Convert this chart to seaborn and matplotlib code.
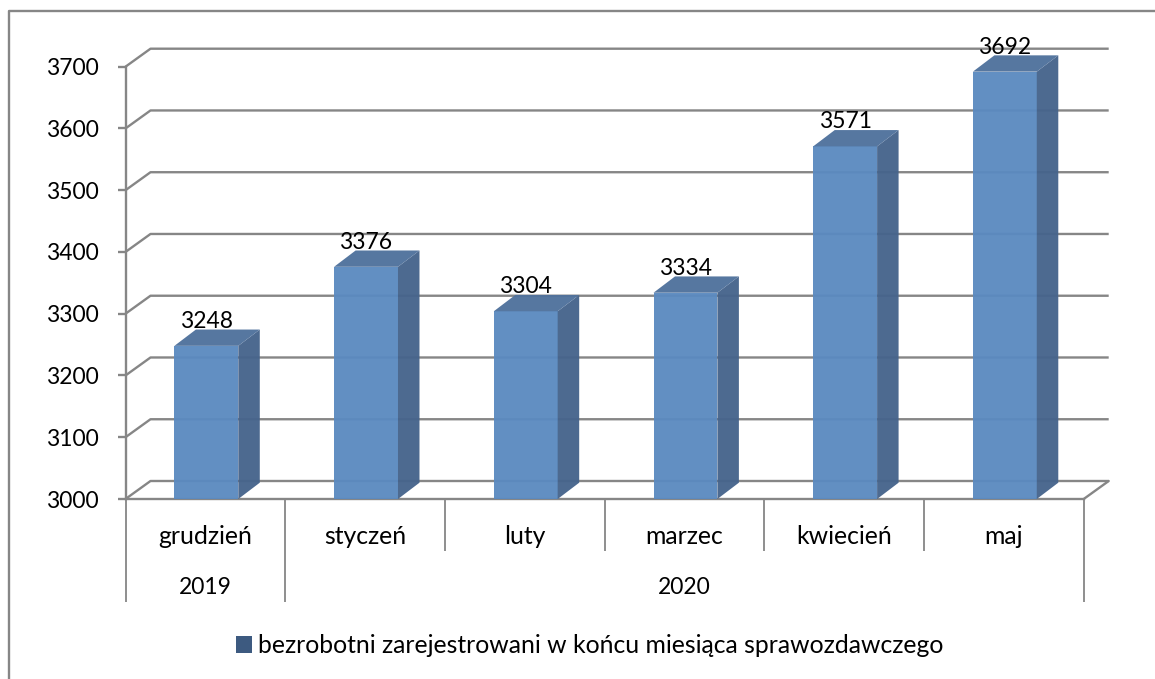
import matplotlib
matplotlib.use("Agg")
import matplotlib.pyplot as plt
import pandas as pd
import seaborn as sns
from matplotlib.lines import Line2D
from matplotlib.patches import Patch

months = ["grudzień", "styczeń", "luty", "marzec", "kwiecień", "maj"]
values = [3248, 3376, 3304, 3334, 3571, 3692]
years = ["2019", "2020"]
year_spans = [(0, 1), (1, 6)]
y_ticks = [3000, 3100, 3200, 3300, 3400, 3500, 3600, 3700]
series_name = "bezrobotni zarejestrowani w końcu miesiąca sprawozdawczego"

W, H = 1155, 679
FRONT, SIDE, TOP = "#5b8ac0", "#46648c", "#4f719c"
GRID = "#868686"
TXT = "#000000"
FS = 16.5      # digits
FS_TXT = 17.8  # words
LW = 1.7

sns.set_theme(style="white")
plt.rcParams["font.family"] = ["Lato", "DejaVu Sans"]

fig = plt.figure(figsize=(W / 100, H / 100), dpi=100, facecolor="white")
L, R, T, B = 125.5, 1083.7, 66.7, 499.0
ax = fig.add_axes([L / W, 1 - B / H, (R - L) / W, (B - T) / H])
ax.patch.set_alpha(0)

df = pd.DataFrame({"month": months, "value": values})
sns.barplot(data=df, x="month", y="value", order=months, width=0.4,
            color=FRONT, saturation=1, ax=ax, zorder=3, linewidth=0, edgecolor="none")
ax.set_ylim(y_ticks[0], y_ticks[-1])
ax.set_xlim(-0.5, len(months) - 0.5)
ax.set_yticks(y_ticks)
ax.set_xlabel("")
ax.set_ylabel("")

px_x = (R - L) / len(months)
px_y = (B - T) / (y_ticks[-1] - y_ticks[0])
gdx, gdy = 25 / px_x, 18 / px_y       # depth of the back wall
bdx, bdy = 21.5 / px_x, 16.3 / px_y   # depth of a bar
nudge = 1 / px_x                      # bars sit a pixel right of the slot centre

# back wall grid and floor
x0, x1 = -0.5, len(months) - 0.5
for t in y_ticks:
    ax.plot([x0, x0 + gdx, x1 + gdx], [t, t + gdy, t + gdy], color=GRID, lw=LW,
            clip_on=False, zorder=1, solid_capstyle="butt")
ax.plot([x1, x1 + gdx], [y_ticks[0], y_ticks[0] + gdy], color=GRID, lw=LW,
        clip_on=False, zorder=1)

# 3D faces of the bars
base = y_ticks[0]
for p, v, month in zip(ax.patches, values, months):
    p.set_alpha(0.96)
    p.set_x(p.get_x() + nudge)
    a, b = p.get_x(), p.get_x() + p.get_width()
    ax.fill([b, b + bdx, b + bdx, b], [base, base + bdy, v + bdy, v], color=SIDE,
            lw=0, clip_on=False, zorder=3, alpha=0.96)
    ax.fill([a, b, b + bdx, a + bdx], [v, v, v + bdy, v + bdy], color=TOP,
            lw=0, clip_on=False, zorder=3, alpha=0.96)
    ax.annotate(str(v), xy=((a + b) / 2, v), xytext=(0, 13), textcoords="offset points",
                ha="center", va="baseline", fontsize=FS, color=TXT, zorder=5,
                annotation_clip=False)

sns.despine(ax=ax, top=True, right=True)
for s in ("left", "bottom"):
    ax.spines[s].set_color(GRID)
    ax.spines[s].set_linewidth(LW)
    ax.spines[s].set_zorder(2)

ax.tick_params(axis="y", length=6, width=LW, color=GRID, pad=13.5, labelsize=FS, labelcolor=TXT, left=True)
ax.tick_params(axis="x", length=0, pad=19, labelsize=FS_TXT, labelcolor=TXT)
ax.set_xticks(range(len(months)))
ax.set_xticklabels(months)

# multi-level category axis
xt = ax.get_xaxis_transform()
short = -51.5 / (B - T)
long_ = -103 / (B - T)
span_edges = {e for s in year_spans for e in s}
for i in range(len(months) + 1):
    ax.plot([i - 0.5, i - 0.5], [0, long_ if i in span_edges else short], transform=xt,
            color=GRID, lw=1.3, clip_on=False, zorder=2, solid_capstyle="butt")
for label, (s, e) in zip(years, year_spans):
    ax.text((s + e - 1) / 2, -88.5 / (B - T), label, transform=xt, ha="center", va="center",
            fontsize=FS, color=TXT)

# chart frame (top and left edge)
fig.add_artist(Line2D([8.5 / W, 8.5 / W, 1], [0, 1 - 10.5 / H, 1 - 10.5 / H],
                      color=GRID, lw=LW, transform=fig.transFigure))

handle = Patch(facecolor="#3d5a80", edgecolor="none", label=series_name)
fig.legend(handles=[handle], loc="center", bbox_to_anchor=(590 / W, 1 - 645.5 / H), frameon=False,
           fontsize=FS_TXT, handlelength=0.61, handleheight=0.65, handletextpad=0.27,
           labelcolor=TXT, borderpad=0, borderaxespad=0)

fig.savefig("out.png", dpi=100, facecolor="white")
